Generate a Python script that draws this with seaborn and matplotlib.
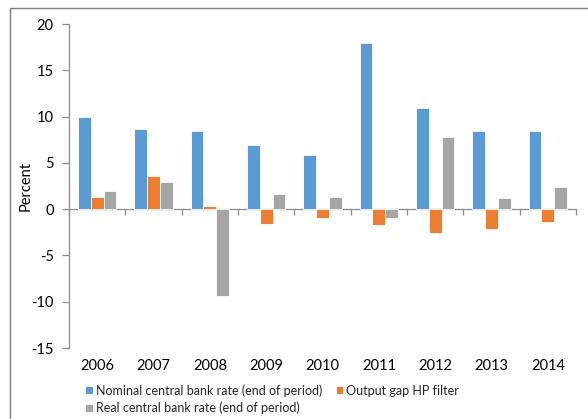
import numpy as np
import pandas as pd
import matplotlib
matplotlib.use("Agg")
import matplotlib.pyplot as plt
from matplotlib.lines import Line2D
import seaborn as sns

years = ["2006", "2007", "2008", "2009", "2010", "2011", "2012", "2013", "2014"]
nominal = [9.9, 8.7, 8.4, 6.9, 5.9, 17.9, 10.9, 8.4, 8.4]
output_gap = [1.3, 3.6, 0.35, -1.65, -1.0, -1.75, -2.6, -2.15, -1.35]
real_rate = [1.95, 2.95, -9.4, 1.6, 1.35, -1.0, 7.75, 1.25, 2.4]

series_names = ["Nominal central bank rate (end of period)",
                "Output gap HP filter",
                "Real central bank rate (end of period)"]
colors = ["#5B9BD5", "#ED7D31", "#A5A5A5"]

df = pd.DataFrame({
    "year": years * 3,
    "value": nominal + output_gap + real_rate,
    "series": [series_names[0]] * 9 + [series_names[1]] * 9 + [series_names[2]] * 9,
})

sns.set_theme(style="white")
plt.rcParams['font.family'] = ['Lato', 'DejaVu Sans']
plt.rcParams['axes.unicode_minus'] = False

fig = plt.figure(figsize=(5.88, 4.19), dpi=100)
ax = fig.add_axes([69 / 588, 1 - 348 / 419, (576 - 69) / 588, (348 - 24) / 419])

sns.barplot(data=df, x="year", y="value", hue="series", hue_order=series_names,
            palette=colors, width=0.68, edgecolor="white", linewidth=0.6,
            saturation=1, ax=ax)

ymin, ymax = -15, 20
ax.set_ylim(ymin, ymax)
ax.set_xlim(-0.5, len(years) - 0.5)
ax.set_yticks(np.arange(-15, 21, 5))
ax.set_ylabel("Percent", fontsize=10.5, color="black")
ax.yaxis.set_label_coords(-0.071, 0.5)
ax.set_xlabel("")

axis_col = "#8C8C8C"
for s in ["top", "right", "bottom"]:
    ax.spines[s].set_visible(False)
ax.spines["left"].set_color(axis_col)
ax.spines["left"].set_linewidth(0.9)
ax.tick_params(axis="y", direction="out", length=5, width=0.9, color=axis_col,
               labelsize=10.5, labelcolor="black", pad=6, left=True)
ax.tick_params(axis="x", length=0, labelsize=10.5, labelcolor="black", pad=8)

# category axis line at zero with ticks between groups
zero_loc = (0 - ymin) / (ymax - ymin)
sec = ax.secondary_xaxis(zero_loc)
sec.set_xticks(np.arange(-0.5, len(years), 1.0))
sec.set_xticklabels([])
sec.spines["bottom"].set_color(axis_col)
sec.spines["bottom"].set_linewidth(0.9)
sec.tick_params(axis="x", direction="out", length=4, width=0.9, color=axis_col)

handles, labels = ax.get_legend_handles_labels()
ax.get_legend().remove()
order = [0, 2, 1]
fig.legend([handles[i] for i in order], [labels[i] for i in order],
           loc="upper left", bbox_to_anchor=(85 / 588, 1 - 384 / 419), ncol=2,
           frameon=False, fontsize=9.0, handlelength=0.6, handleheight=0.6,
           handletextpad=0.25, columnspacing=1.1, labelspacing=0.42,
           borderaxespad=0, borderpad=0)

# chart area border (cropped on right and bottom)
fig.add_artist(Line2D([10 / 588, 1.0], [1 - 8 / 419, 1 - 8 / 419],
                      transform=fig.transFigure, color="#7F7F7F", lw=1))
fig.add_artist(Line2D([10 / 588, 10 / 588], [0, 1 - 8 / 419],
                      transform=fig.transFigure, color="#7F7F7F", lw=1))

fig.savefig("out.png", dpi=100)
